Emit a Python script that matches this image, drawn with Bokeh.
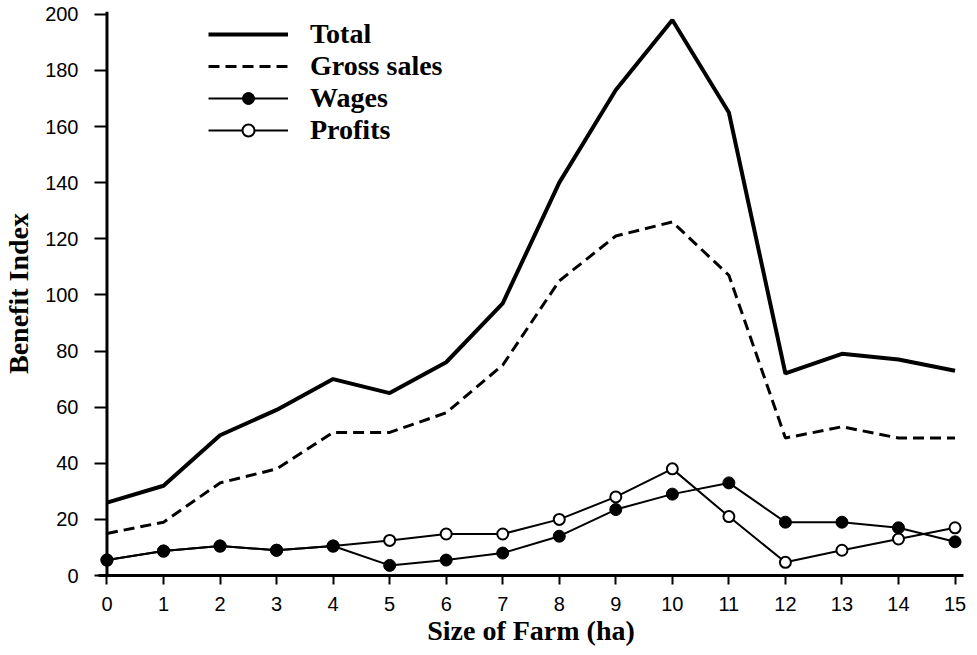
from bokeh.plotting import figure
from bokeh.models import Range1d, Span, Legend, LegendItem, FixedTicker, ColumnDataSource
from bokeh.embed import file_html
from bokeh.resources import INLINE

farm_size = [0, 1, 2, 3, 4, 5, 6, 7, 8, 9, 10, 11, 12, 13, 14, 15]
total = [26, 32, 50, 59, 70, 65, 76, 97, 140, 173, 198, 165, 72, 79, 77, 73]
gross_sales = [15, 19, 33, 38, 51, 51, 58, 75, 105, 121, 126, 107, 49, 53, 49, 49]
wages = [5.5, 8.7, 10.5, 9, 10.5, 3.6, 5.5, 8, 14, 23.5, 29, 33, 19, 19, 17, 12]
profits = [5.5, 8.7, 10.5, 9, 10.5, 12.5, 14.8, 14.8, 20, 28, 38, 21, 4.7, 9, 13, 17]
y_ticks = [0, 20, 40, 60, 80, 100, 120, 140, 160, 180, 200]

src = ColumnDataSource(dict(x=farm_size, total=total, gross=gross_sales,
                            wages=wages, profits=profits))

SERIF = "Liberation Serif"
SANS = "Liberation Sans"

p = figure(width=968, height=648, output_backend="svg", toolbar_location=None,
           x_range=Range1d(-0.15, 15.15), y_range=Range1d(0, 201),
           min_border_left=96, min_border_right=5, min_border_top=11,
           min_border_bottom=70)
p.outline_line_color = None
p.xgrid.grid_line_color = None
p.ygrid.grid_line_color = None

# axes
p.xaxis.ticker = FixedTicker(ticks=farm_size)
p.yaxis.ticker = FixedTicker(ticks=y_ticks)
p.xaxis.minor_tick_line_color = None
p.yaxis.minor_tick_line_color = None
p.xaxis.axis_line_width = 3
p.xaxis.axis_line_color = "black"
p.xaxis.major_tick_line_width = 2
p.xaxis.major_tick_out = 9
p.xaxis.major_tick_in = 0
p.yaxis.axis_line_color = None
p.yaxis.major_tick_line_width = 2
p.yaxis.major_tick_in = 8
p.yaxis.major_tick_out = 4
for ax in (p.xaxis, p.yaxis):
    ax.major_label_text_font = SANS
    ax.major_label_text_font_size = "20px"
    ax.major_label_text_color = "black"
    ax.axis_label_text_font = SERIF
    ax.axis_label_text_font_style = "bold"
    ax.axis_label_text_font_size = "28px"
    ax.axis_label_text_color = "black"
p.xaxis.major_label_standoff = 12
p.yaxis.major_label_standoff = 16
p.xaxis.axis_label = "Size of Farm (ha)"
p.yaxis.axis_label = "Benefit Index"
p.xaxis.axis_label_standoff = 1
p.yaxis.axis_label_standoff = 8

p.add_layout(Span(location=0, dimension="height", line_color="black", line_width=3))

r_total = p.line("x", "total", source=src, line_color="black", line_width=4)
r_gross = p.line("x", "gross", source=src, line_color="black", line_width=3,
                 line_dash="11 6")
r_pl = p.line("x", "profits", source=src, line_color="black", line_width=2)
r_pm = p.scatter("x", "profits", source=src, marker="circle", size=11,
                 fill_color="white", line_color="black", line_width=2)
r_wl = p.line("x", "wages", source=src, line_color="black", line_width=2)
r_wm = p.scatter("x", "wages", source=src, marker="circle", size=12,
                 fill_color="black", line_color="black")

legend = Legend(items=[
    LegendItem(label="Total", renderers=[r_total]),
    LegendItem(label="Gross sales", renderers=[r_gross]),
    LegendItem(label="Wages", renderers=[r_wl, r_wm]),
    LegendItem(label="Profits", renderers=[r_pl, r_pm]),
], location=(110, 429))
legend.glyph_width = 80
legend.glyph_height = 30
legend.label_height = 30
legend.spacing = 0
legend.padding = 0
legend.margin = 0
legend.label_standoff = 22
legend.label_text_font = SERIF
legend.label_text_font_style = "bold"
legend.label_text_font_size = "28px"
legend.label_text_color = "black"
legend.border_line_color = None
legend.background_fill_alpha = 0
p.add_layout(legend)

open("out.html", "w").write(file_html(p, INLINE))
